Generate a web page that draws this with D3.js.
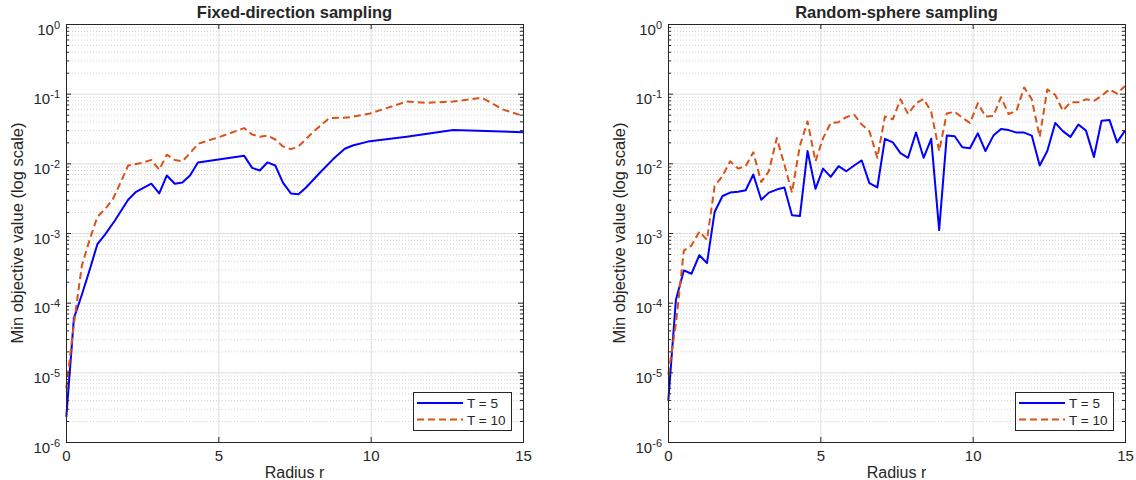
<!DOCTYPE html>
<html>
<head>
<meta charset="utf-8">
<script src="https://cdn.jsdelivr.net/npm/d3@7"></script>
<style>
	body { margin: 0; background: #fff; }
	svg { display: block; font-family: "Liberation Sans", Arial, Helvetica, sans-serif; }
</style>
</head>
<body>
<script>

// Fixed-direction sampling (left panel)
var fixedRadiusT5 = [0.01, 0.26, 0.52, 0.77, 1.03, 1.28, 1.6, 2.04, 2.30, 2.80, 3.06, 3.31, 3.57, 3.82, 4.07, 4.33,
	5.85, 6.11, 6.36, 6.61, 6.87, 7.12, 7.38, 7.63, 7.88, 8.34, 8.77, 9.15, 9.41, 9.91, 11.18, 12.71, 15.0];
var fixedT5 = [2.3e-6, 6e-5, 1.3e-4, 2.9e-4, 6.9e-4, 9.5e-4, 1.5e-3, 3.0e-3, 3.9e-3, 5.1e-3, 3.7e-3, 6.7e-3, 5.1e-3, 5.3e-3, 6.7e-3, 1.03e-2,
	1.28e-2, 8.6e-3, 7.9e-3, 1.03e-2, 9.3e-3, 5.3e-3, 3.7e-3, 3.6e-3, 4.5e-3, 7.4e-3, 1.15e-2, 1.62e-2, 1.8e-2, 2.05e-2, 2.4e-2, 3.0e-2, 2.8e-2];

var fixedRadiusT10 = [0.01, 0.26, 0.52, 0.77, 1.03, 1.28, 1.53, 1.79, 2.04, 2.43, 2.80, 3.06, 3.31, 3.57, 3.82, 4.07, 4.33,
	5.05, 5.85, 6.11, 6.36, 6.61, 6.87, 7.12, 7.38, 7.63, 8.14, 8.64, 9.32, 9.98, 11.18, 11.84, 12.71, 13.53, 13.7, 14.35, 15.0];
var fixedT10 = [5.9e-6, 5e-5, 3.4e-4, 7.9e-4, 1.7e-3, 2.2e-3, 3.0e-3, 5.3e-3, 9.3e-3, 1.0e-2, 1.12e-2, 8.1e-3, 1.33e-2, 1.12e-2, 1.07e-2, 1.4e-2, 1.9e-2,
	2.4e-2, 3.2e-2, 2.6e-2, 2.4e-2, 2.5e-2, 2.2e-2, 1.75e-2, 1.6e-2, 1.75e-2, 2.9e-2, 4.45e-2, 4.57e-2, 5.2e-2, 7.7e-2, 7.4e-2, 7.7e-2, 8.6e-2, 8.5e-2, 5.9e-2, 4.8e-2];

// Random-sphere sampling (right panel)
var sphereRadius = [0.01, 0.26, 0.52, 0.77, 1.03, 1.28, 1.53, 1.79, 2.04, 2.30, 2.55, 2.80, 3.06, 3.31, 3.57, 3.82, 4.07, 4.33, 4.58, 4.84,
	5.09, 5.34, 5.60, 5.85, 6.11, 6.36, 6.61, 6.87, 7.12, 7.38, 7.63, 7.88, 8.14, 8.39, 8.64, 8.90, 9.15, 9.41, 9.66, 9.91,
	10.17, 10.42, 10.68, 10.93, 11.18, 11.44, 11.69, 11.94, 12.20, 12.45, 12.71, 12.96, 13.21, 13.47, 13.72, 13.98, 14.23, 14.49, 14.74, 15.00];
var sphereT5 = [3.9e-6, 1.1e-4, 2.9e-4, 2.6e-4, 4.8e-4, 3.7e-4, 2.0e-3, 3.4e-3, 3.8e-3, 3.9e-3, 4.1e-3, 6.9e-3, 3.0e-3, 3.8e-3, 4.2e-3, 4.5e-3, 1.8e-3, 1.75e-3, 1.5e-2, 4.3e-3,
	8.4e-3, 6.4e-3, 9.1e-3, 7.7e-3, 9.3e-3, 1.1e-2, 5.2e-3, 4.5e-3, 2.25e-2, 2.0e-2, 1.4e-2, 1.2e-2, 2.77e-2, 1.2e-2, 2.25e-2, 1.1e-3, 2.5e-2, 2.45e-2, 1.7e-2, 1.65e-2,
	2.7e-2, 1.5e-2, 2.5e-2, 3.1e-2, 3.0e-2, 2.76e-2, 2.76e-2, 2.5e-2, 9.3e-3, 1.5e-2, 3.8e-2, 2.9e-2, 2.4e-2, 3.6e-2, 2.95e-2, 1.23e-2, 4.1e-2, 4.2e-2, 2.0e-2, 2.95e-2];
var sphereT10 = [9.3e-6, 5e-5, 5.6e-4, 6.6e-4, 1.05e-3, 8e-4, 4.7e-3, 6.6e-3, 1.07e-2, 8.4e-3, 9.1e-3, 1.44e-2, 5.4e-3, 7.7e-3, 2.3e-2, 9.6e-3, 3.8e-3, 1.8e-2, 4.0e-2, 1.07e-2,
	2.3e-2, 3.8e-2, 3.9e-2, 4.6e-2, 5.0e-2, 3.6e-2, 2.9e-2, 1.2e-2, 4.7e-2, 4.3e-2, 8.3e-2, 5.1e-2, 7.3e-2, 8.4e-2, 5.5e-2, 1.5e-2, 5.2e-2, 5.5e-2, 4.5e-2, 3.8e-2,
	7.3e-2, 4.7e-2, 4.8e-2, 8.9e-2, 5.1e-2, 5.7e-2, 1.23e-1, 8.3e-2, 2.4e-2, 1.15e-1, 9.6e-2, 5.7e-2, 7.5e-2, 7.5e-2, 8.3e-2, 7.9e-2, 9.3e-2, 1.15e-1, 1.0e-1, 1.29e-1];

var xTicks = [0, 5, 10, 15];
var yTickExponents = [-6, -5, -4, -3, -2, -1, 0];
var minorMantissas = [2, 3, 4, 5, 6, 7, 8, 9];
var legendLabels = ["T = 5", "T = 10"];
var panelTitles = ["Fixed-direction sampling", "Random-sphere sampling"];


var axisColor = "#262626";
var blue = "#0000ff";
var orange = "#d95319";

var svg = d3.select("body").append("svg")
	.attr("width", 1136)
	.attr("height", 480);

svg.append("rect").attr("width", 1136).attr("height", 480).attr("fill", "#fff");


//*******************************************************************************************
//
//		PANEL
//
//*******************************************************************************************

function drawPanel(opts) {
	var top = 24, bottom = 442;
	var left = opts.left, right = opts.right;
	var width = right - left, height = bottom - top;

	var x = d3.scaleLinear().domain([0, 15]).range([left, right]);
	var y = d3.scaleLog().domain([1e-6, 1]).range([bottom, top]);

	var majorY = yTickExponents.map(function(e) { return Math.pow(10, e); });
	var minorY = [];
	yTickExponents.slice(0, -1).forEach(function(e) {
		minorMantissas.forEach(function(m) { minorY.push(m * Math.pow(10, e)); });
	});

	var g = svg.append("g").attr("id", opts.id);

	// minor grid (dotted)
	g.append("g")
		.attr("class", "grid-minor")
		.attr("transform", "translate(" + left + ",0)")
		.call(d3.axisLeft(y).tickValues(minorY).tickSize(-width).tickFormat(""))
		.call(function(s) {
			s.select(".domain").remove();
			s.selectAll("line").attr("stroke", "#d2d2d2").attr("stroke-dasharray", "1,2");
		});

	// major grid
	g.append("g")
		.attr("transform", "translate(" + left + ",0)")
		.call(d3.axisLeft(y).tickValues(majorY).tickSize(-width).tickFormat(""))
		.call(function(s) {
			s.select(".domain").remove();
			s.selectAll("line").attr("stroke", "#dedede");
		});
	g.append("g")
		.attr("transform", "translate(0," + bottom + ")")
		.call(d3.axisBottom(x).tickValues(xTicks).tickSize(-height).tickFormat(""))
		.call(function(s) {
			s.select(".domain").remove();
			s.selectAll("line").attr("stroke", "#dedede");
		});

	// data lines
	var line = d3.line()
		.x(function(d) { return x(d[0]); })
		.y(function(d) { return y(d[1]); });

	opts.series.forEach(function(s) {
		g.append("path")
			.datum(d3.zip(s.r, s.v))
			.attr("fill", "none")
			.attr("stroke", s.color)
			.attr("stroke-width", 2)
			.attr("stroke-linejoin", "round")
			.attr("stroke-dasharray", s.dash || null)
			.attr("d", line);
	});

	// ticks, inward on all four sides
	function tickStyle(s) {
		s.select(".domain").remove();
		s.selectAll("text").remove();
		s.selectAll("line").attr("stroke", axisColor);
	}
	g.append("g").attr("transform", "translate(" + left + ",0)")
		.call(d3.axisLeft(y).tickValues(minorY).tickSize(-3)).call(tickStyle);
	g.append("g").attr("transform", "translate(" + right + ",0)")
		.call(d3.axisRight(y).tickValues(minorY).tickSize(-3)).call(tickStyle);
	g.append("g").attr("transform", "translate(" + right + ",0)")
		.call(d3.axisRight(y).tickValues(majorY).tickSize(-5)).call(tickStyle);
	g.append("g").attr("transform", "translate(0," + top + ")")
		.call(d3.axisTop(x).tickValues(xTicks).tickSize(-5)).call(tickStyle);

	var yAxis = g.append("g").attr("transform", "translate(" + left + ",0)")
		.call(d3.axisLeft(y).tickValues(majorY).tickSize(-5));
	yAxis.attr("font-family", null).attr("font-size", null);
	yAxis.select(".domain").remove();
	yAxis.selectAll("line").attr("stroke", axisColor);
	yAxis.selectAll("text").remove();
	yAxis.selectAll(".tick").each(function(d) {
		var t = d3.select(this).append("text")
			.attr("x", -6)
			.attr("y", 10)
			.attr("text-anchor", "end")
			.attr("fill", axisColor)
			.style("font-size", "15px");
		t.append("tspan").text("10");
		t.append("tspan")
			.attr("dy", -6)
			.style("font-size", "11px")
			.text(Math.round(Math.log10(d)));
	});

	var xAxis = g.append("g").attr("transform", "translate(0," + bottom + ")")
		.call(d3.axisBottom(x).tickValues(xTicks).tickSize(-5).tickPadding(8));
	xAxis.attr("font-family", null).attr("font-size", null);
	xAxis.select(".domain").remove();
	xAxis.selectAll("line").attr("stroke", axisColor);
	xAxis.selectAll("text")
		.attr("fill", axisColor)
		.style("font-size", "15px");

	// box
	g.append("rect")
		.attr("x", left + 0.5).attr("y", top + 0.5)
		.attr("width", width).attr("height", height)
		.attr("fill", "none")
		.attr("stroke", axisColor)
		.attr("stroke-width", 1);

	// labels
	g.append("text")
		.attr("x", (left + right) / 2)
		.attr("y", 18)
		.attr("text-anchor", "middle")
		.attr("fill", axisColor)
		.style("font-size", "16.5px")
		.style("font-weight", "bold")
		.text(opts.title);

	g.append("text")
		.attr("x", (left + right) / 2)
		.attr("y", 478)
		.attr("text-anchor", "middle")
		.attr("fill", axisColor)
		.style("font-size", "16px")
		.text("Radius r");

	g.append("text")
		.attr("transform", "translate(" + (left - 43) + "," + ((top + bottom) / 2) + ") rotate(-90)")
		.attr("text-anchor", "middle")
		.attr("fill", axisColor)
		.style("font-size", "16.5px")
		.text("Min objective value (log scale)");

	// legend
	var lx = right - 110, ly = 392;
	var legend = g.append("g").attr("transform", "translate(" + lx + "," + ly + ")");
	legend.append("rect")
		.attr("x", 0.5).attr("y", 0.5)
		.attr("width", 98).attr("height", 38)
		.attr("fill", "#fff")
		.attr("stroke", axisColor);
	opts.series.forEach(function(s, i) {
		var ry = 11 + i * 16.5;
		legend.append("line")
			.attr("x1", 4).attr("x2", 50)
			.attr("y1", ry).attr("y2", ry)
			.attr("stroke", s.color)
			.attr("stroke-width", 2)
			.attr("stroke-dasharray", s.dash || null);
		legend.append("text")
			.attr("x", 54)
			.attr("y", ry + 5)
			.attr("fill", axisColor)
			.style("font-size", "13.5px")
			.text(legendLabels[i]);
	});
}


drawPanel({
	id: "fixed-direction",
	left: 66,
	right: 523,
	title: panelTitles[0],
	series: [
		{ r: fixedRadiusT5, v: fixedT5, color: blue },
		{ r: fixedRadiusT10, v: fixedT10, color: orange, dash: "7,4" }
	]
});

drawPanel({
	id: "random-sphere",
	left: 668,
	right: 1125,
	title: panelTitles[1],
	series: [
		{ r: sphereRadius, v: sphereT5, color: blue },
		{ r: sphereRadius, v: sphereT10, color: orange, dash: "7,4" }
	]
});

</script>
</body>
</html>
